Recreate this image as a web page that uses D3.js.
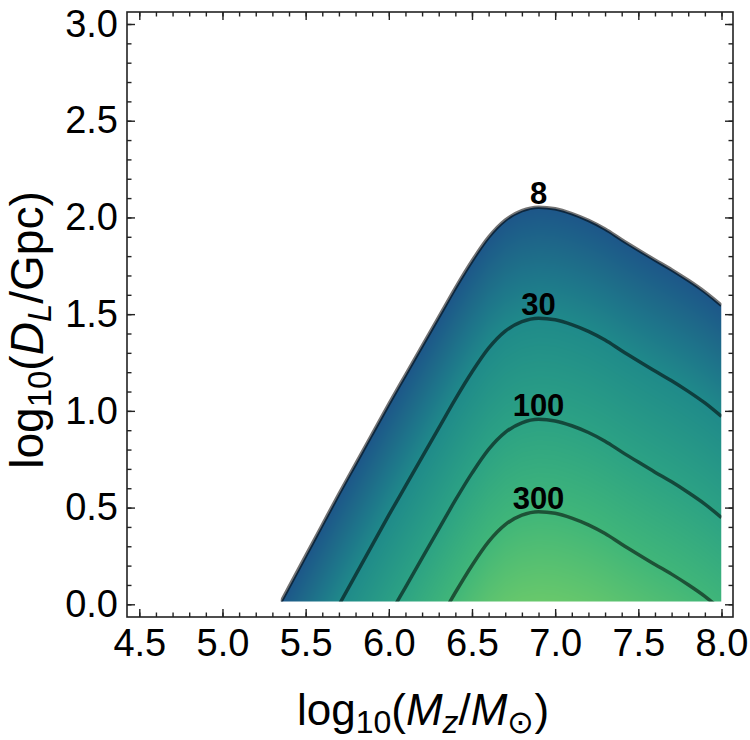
<!DOCTYPE html>
<html>
<head>
<meta charset="utf-8">
<script src="https://cdn.jsdelivr.net/npm/d3@7"></script>
<style>
  body { margin: 0; background: #fff; }
  text { font-family: "Liberation Sans", Arial, sans-serif; }
</style>
</head>
<body>
<div id="chart"></div>
<script>
// SNR = 8 contour: log10(Mz/Msun) -> log10(DL/Gpc)
var logM  = [5.35, 5.4, 5.5, 5.6, 5.7, 5.8, 5.9, 6.0, 6.1, 6.2, 6.3, 6.4, 6.5, 6.6, 6.7, 6.8, 6.9, 7.0, 7.1, 7.2, 7.3, 7.4, 7.5, 7.6, 7.7, 7.8, 7.9, 8.0];
var logD8 = [0.01, 0.09, 0.25, 0.41, 0.57, 0.725, 0.88, 1.035, 1.185, 1.335, 1.485, 1.635, 1.775, 1.898, 1.986, 2.035, 2.053, 2.045, 2.02, 1.985, 1.94, 1.885, 1.832, 1.78, 1.73, 1.675, 1.615, 1.545];
// contour levels (SNR scales as 1/DL, so each level is the SNR=8 curve shifted down)
var snrLevels = [8, 30, 100, 300];
var labelAt = 6.9;
var logDmin = 0.015;
var xTicks = [4.5, 5.0, 5.5, 6.0, 6.5, 7.0, 7.5, 8.0];
var yTicks = [0.0, 0.5, 1.0, 1.5, 2.0, 2.5, 3.0];
// colours at SNR = 8, 30, 100, 300 and at the top of the map
var shade = ["#1d5689", "#1f8a8a", "#2ca284", "#40b679", "#68c86b"];

var W = 750, H = 740;
var frame = {left: 127, right: 733, top: 12, bottom: 617};

var x = d3.scaleLinear().domain([4.5, 8.0]).range([139.3, 721.5]);
var y = d3.scaleLinear().domain([0, 3]).range([604.3, 24]);

var svg = d3.select("#chart").append("svg")
    .attr("width", W)
    .attr("height", H);

var defs = svg.append("defs");

// clip: data rectangle
defs.append("clipPath").attr("id", "dataRect")
  .append("rect")
    .attr("x", x(logM[0]))
    .attr("y", frame.top)
    .attr("width", x(logM[logM.length - 1]) - x(logM[0]))
    .attr("height", y(logDmin) - frame.top);

var pts = logM.map(function(m, i) { return [m, logD8[i]]; });

var area = d3.area()
    .x(function(d) { return x(d[0]); })
    .y0(y(-0.5))
    .y1(function(d) { return y(d[1]); })
    .curve(d3.curveMonotoneX);

defs.append("clipPath").attr("id", "snrArea")
  .append("path")
    .attr("d", area(pts));

// density image: log10 SNR = log10(8) + g(logM) - logD
var log8 = Math.log10(snrLevels[0]);
var gOf = d3.scaleLinear().domain(logM).range(logD8).clamp(true);
var topLog = log8 + d3.max(logD8) - logDmin;
var color = d3.scaleLinear()
    .domain(snrLevels.map(function(L) { return Math.log10(L); }).concat([topLog]))
    .range(shade)
    .clamp(true);

var cw = frame.right - frame.left, ch = frame.bottom - frame.top;
var canvas = document.createElement("canvas");
canvas.width = cw; canvas.height = ch;
var ctx = canvas.getContext("2d");
var img = ctx.createImageData(cw, ch);
for (var py = 0; py < ch; py++) {
  var yv = y.invert(frame.top + py + 0.5);
  for (var px = 0; px < cw; px++) {
    var xv = x.invert(frame.left + px + 0.5);
    var lv = log8 + gOf(xv) - yv;
    var c = d3.rgb(color(lv));
    var k = (py * cw + px) * 4;
    img.data[k] = c.r; img.data[k + 1] = c.g; img.data[k + 2] = c.b; img.data[k + 3] = 255;
  }
}
ctx.putImageData(img, 0, 0);

svg.append("g")
    .attr("clip-path", "url(#dataRect)")
  .append("g")
    .attr("clip-path", "url(#snrArea)")
  .append("image")
    .attr("x", frame.left)
    .attr("y", frame.top)
    .attr("width", cw)
    .attr("height", ch)
    .attr("href", canvas.toDataURL());

// contour lines
var line = d3.line()
    .x(function(d) { return x(d[0]); })
    .y(function(d) { return y(d[1]); })
    .curve(d3.curveMonotoneX);

var lines = svg.append("g").attr("clip-path", "url(#dataRect)");
snrLevels.forEach(function(L) {
  var off = Math.log10(L / snrLevels[0]);
  lines.append("path")
      .attr("d", line(pts.map(function(d) { return [d[0], d[1] - off]; })))
      .attr("fill", "none")
      .attr("stroke", "#000")
      .attr("stroke-opacity", 0.55)
      .attr("stroke-width", 3.5);
});

// contour labels
svg.append("g").selectAll("text")
    .data(snrLevels)
  .enter().append("text")
    .attr("x", x(labelAt))
    .attr("y", function(L) { return y(gOf(labelAt) - Math.log10(L / snrLevels[0])) - 3; })
    .attr("text-anchor", "middle")
    .attr("font-size", 31)
    .attr("font-weight", "bold")
    .text(function(L) { return L; });

// frame + ticks on all sides
var fmt = d3.format(".1f");
var xMinor = x.ticks(35), yMinor = y.ticks(30);

function styleAxis(g) {
  g.select(".domain").remove();
  g.selectAll(".tick line").attr("stroke", "#222").attr("stroke-width", 1.4);
  g.selectAll(".tick text").attr("fill", "#000").attr("font-size", 38)
    .attr("font-family", "'Liberation Sans', Arial, sans-serif");
}

svg.append("g").attr("transform", "translate(0," + frame.bottom + ")")
    .call(d3.axisBottom(x).tickValues(xMinor).tickSize(-4.5).tickFormat("")).call(styleAxis);
svg.append("g").attr("transform", "translate(0," + frame.bottom + ")")
    .call(d3.axisBottom(x).tickValues(xTicks).tickSize(-8).tickPadding(12).tickFormat(fmt)).call(styleAxis);
svg.append("g").attr("transform", "translate(0," + frame.top + ")")
    .call(d3.axisTop(x).tickValues(xMinor).tickSize(-4.5).tickFormat("")).call(styleAxis);
svg.append("g").attr("transform", "translate(0," + frame.top + ")")
    .call(d3.axisTop(x).tickValues(xTicks).tickSize(-8).tickFormat("")).call(styleAxis);

svg.append("g").attr("transform", "translate(" + frame.left + ",0)")
    .call(d3.axisLeft(y).tickValues(yMinor).tickSize(-4.5).tickFormat("")).call(styleAxis);
svg.append("g").attr("transform", "translate(" + frame.left + ",0)")
    .call(d3.axisLeft(y).tickValues(yTicks).tickSize(-8).tickPadding(9).tickFormat(fmt)).call(styleAxis);
svg.append("g").attr("transform", "translate(" + frame.right + ",0)")
    .call(d3.axisRight(y).tickValues(yMinor).tickSize(-4.5).tickFormat("")).call(styleAxis);
svg.append("g").attr("transform", "translate(" + frame.right + ",0)")
    .call(d3.axisRight(y).tickValues(yTicks).tickSize(-8).tickFormat("")).call(styleAxis);

svg.append("rect")
    .attr("x", frame.left)
    .attr("y", frame.top)
    .attr("width", frame.right - frame.left)
    .attr("height", frame.bottom - frame.top)
    .attr("fill", "none")
    .attr("stroke", "#222")
    .attr("stroke-width", 1.6);

// axis titles
var xt = svg.append("text")
    .attr("x", 423)
    .attr("y", 725)
    .attr("text-anchor", "middle")
    .attr("font-size", 44);
xt.append("tspan").text("log");
xt.append("tspan").attr("font-size", 32).attr("dy", 8).text("10");
xt.append("tspan").attr("dy", -8).text("(");
xt.append("tspan").attr("font-style", "italic").text("M");
xt.append("tspan").attr("font-size", 32).attr("font-style", "italic").attr("dy", 8).text("z");
xt.append("tspan").attr("dy", -8).text("/");
xt.append("tspan").attr("font-style", "italic").text("M");
xt.append("tspan").attr("font-size", 32).attr("dy", 8).text("\u2299");
xt.append("tspan").attr("dy", -8).text(")");

var yt = svg.append("text")
    .attr("transform", "translate(43,330) rotate(-90)")
    .attr("text-anchor", "middle")
    .attr("font-size", 46);
yt.append("tspan").text("log");
yt.append("tspan").attr("font-size", 33).attr("dy", 8).text("10");
yt.append("tspan").attr("dy", -8).text("(");
yt.append("tspan").attr("font-style", "italic").text("D");
yt.append("tspan").attr("font-size", 33).attr("font-style", "italic").attr("dy", 8).text("L");
yt.append("tspan").attr("dy", -8).text("/Gpc)");
</script>
</body>
</html>
